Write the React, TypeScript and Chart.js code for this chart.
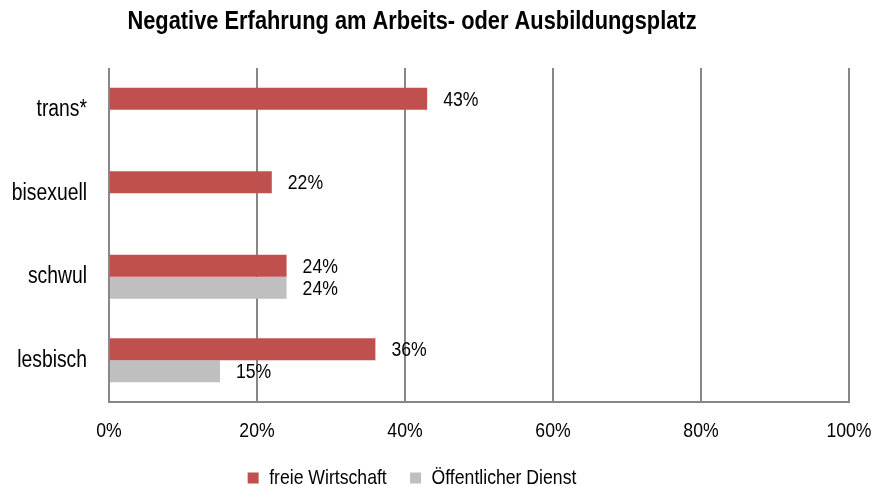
import React, { useEffect, useRef } from 'react';
import { Chart, registerables } from 'chart.js';

Chart.register(...registerables);

const titleText = 'Negative Erfahrung am Arbeits- oder Ausbildungsplatz';
const categories = ['trans*', 'bisexuell', 'schwul', 'lesbisch'];
const seriesNames = ['freie Wirtschaft', 'Öffentlicher Dienst'];
const freieWirtschaft: (number | null)[] = [43, 22, 24, 36];
const oeffentlicherDienst: (number | null)[] = [null, null, 24, 15];
const xTicks = [0, 20, 40, 60, 80, 100];

const FONT = '"Liberation Sans", Arial, sans-serif';
const SX = 0.84; // horizontal condensing to imitate a narrow typeface

function condense(ctx: any) {
  const fill = ctx.fillText.bind(ctx);
  const measure = ctx.measureText.bind(ctx);
  ctx.fillText = (text: string, x: number, y: number, maxWidth?: number) => {
    ctx.save();
    ctx.translate(x, y);
    ctx.scale(SX, 1);
    if (maxWidth !== undefined && maxWidth !== null) fill(text, 0, 0, maxWidth / SX);
    else fill(text, 0, 0);
    ctx.restore();
  };
  ctx.measureText = (text: string) => {
    const m = measure(text);
    return {
      width: m.width * SX,
      actualBoundingBoxLeft: m.actualBoundingBoxLeft * SX,
      actualBoundingBoxRight: m.actualBoundingBoxRight * SX,
      actualBoundingBoxAscent: m.actualBoundingBoxAscent,
      actualBoundingBoxDescent: m.actualBoundingBoxDescent,
      fontBoundingBoxAscent: m.fontBoundingBoxAscent,
      fontBoundingBoxDescent: m.fontBoundingBoxDescent,
    };
  };
}

const valueLabels = {
  id: 'valueLabels',
  afterDatasetsDraw(chart: any) {
    const ctx = chart.ctx;
    ctx.save();
    ctx.font = `21px ${FONT}`;
    ctx.fillStyle = '#000';
    ctx.textAlign = 'left';
    ctx.textBaseline = 'middle';
    chart.data.datasets.forEach((ds: any, i: number) => {
      const meta = chart.getDatasetMeta(i);
      meta.data.forEach((bar: any, j: number) => {
        const v = ds.data[j];
        if (v == null) return;
        ctx.fillText(v + '%', bar.x + 16, bar.y + 1);
      });
    });
    ctx.restore();
  },
};

export default function App() {
  const ref = useRef<HTMLCanvasElement | null>(null);

  useEffect(() => {
    document.body.style.margin = '0';
    if (!ref.current) return;
    const ctx = ref.current.getContext('2d');
    condense(ctx);
    Chart.defaults.font.family = FONT;
    const chart = new Chart(ref.current, {
      type: 'bar',
      data: {
        labels: categories,
        datasets: [
          {
            label: seriesNames[0],
            data: freieWirtschaft,
            backgroundColor: '#C0504D',
            categoryPercentage: 0.527,
            barPercentage: 1.0,
          },
          {
            label: seriesNames[1],
            data: oeffentlicherDienst,
            backgroundColor: '#BFBFBF',
            categoryPercentage: 0.527,
            barPercentage: 1.0,
          },
        ],
      },
      options: {
        responsive: false,
        animation: false,
        indexAxis: 'y',
        layout: { padding: { left: -25, right: 25, top: 0, bottom: -12.5 } },
        plugins: {
          title: {
            display: true,
            text: titleText,
            color: '#000',
            font: { size: 26, weight: 'bold', family: FONT },
            padding: { top: 6, bottom: 30.8 },
          },
          legend: {
            position: 'bottom',
            labels: {
              boxWidth: 11,
              boxHeight: 11,
              color: '#000',
              font: { size: 21, family: FONT },
              padding: 23.3,
            },
          },
          tooltip: { enabled: false },
        },
        scales: {
          x: {
            min: 0,
            max: 100,
            afterBuildTicks: (scale: any) => {
              scale.ticks = xTicks.map((v) => ({ value: v }));
            },
            ticks: {
              callback: (v: any) => v + '%',
              color: '#000',
              font: { size: 21, family: FONT },
              padding: 0,
            },
            grid: {
              color: '#878787',
              lineWidth: 2,
              drawTicks: true,
              tickLength: 17,
              tickColor: 'rgba(0,0,0,0)',
            },
            border: { display: true, color: '#878787', width: 2 },
          },
          y: {
            ticks: {
              color: '#000',
              font: { size: 23, family: FONT },
              padding: 22,
            },
            grid: { display: false, drawTicks: false },
            border: { display: false },
            afterFit: (scale: any) => {
              scale.width = 134;
            },
          },
        },
      },
      plugins: [valueLabels],
    });
    return () => chart.destroy();
  }, []);

  return (
    <div style={{ position: 'absolute', left: 0, top: 0, width: 874, height: 486 }}>
      <canvas ref={ref} width={874} height={486} style={{ display: 'block' }} />
    </div>
  );
}
